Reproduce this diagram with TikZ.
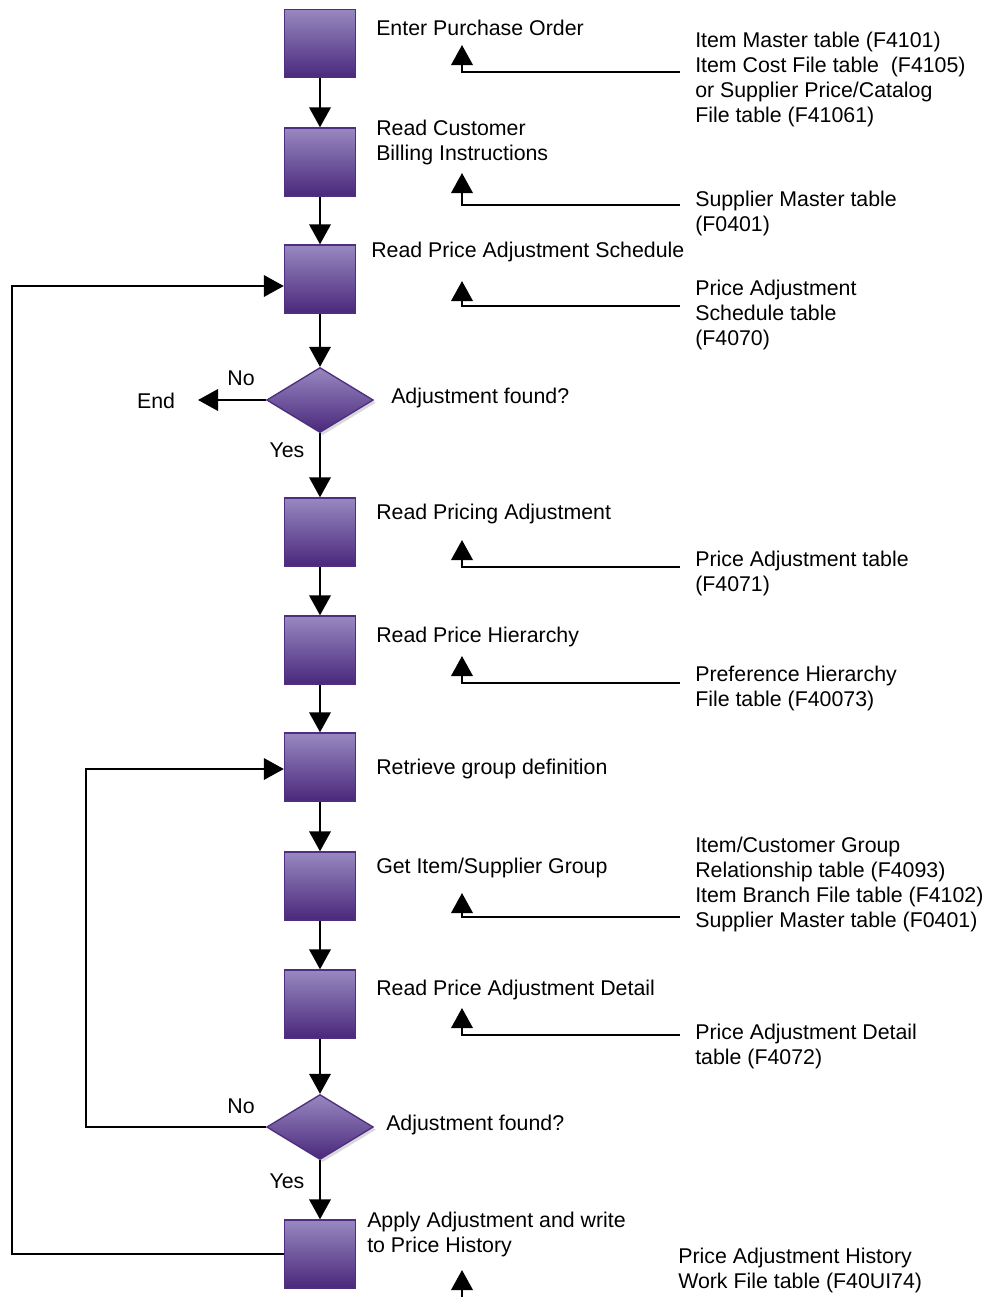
\documentclass[tikz,border=0pt]{standalone}
\usepackage{fontspec}
\setmainfont{Liberation Sans}
\usetikzlibrary{arrows.meta,shapes.geometric,shadows}
\definecolor{boxtop}{RGB}{152,136,192}
\definecolor{boxbot}{RGB}{74,40,124}
\definecolor{boxedge}{RGB}{78,46,128}
\begin{document}
\begin{tikzpicture}[x=0.75pt,y=-0.75pt,
  every node/.style={inner sep=0pt,font=\fontsize{16}{18.75}\selectfont},
  stepbox/.style={rectangle,draw=boxedge,line width=1pt,top color=boxtop,bottom color=boxbot,
    minimum width=53.25pt,minimum height=51pt},
  decision/.style={diamond,draw=boxedge,line width=1pt,top color=boxtop,bottom color=boxbot,
    minimum width=80pt,minimum height=48.75pt,
    drop shadow={shadow xshift=2pt,shadow yshift=-2pt,fill=black!15,opacity=1}},
  label/.style={anchor=west,align=left},
  flow/.style={line width=1.9pt,-{Triangle[width=16pt,length=15pt]}}]
\useasboundingbox (0,0) rectangle (985,1297);

% process steps
\node[stepbox] (b1) at (320,43.5) {};
\node[stepbox] (b2) at (320,162) {};
\node[stepbox] (b3) at (320,279) {};
\node[decision] (d1) at (320,400) {};
\node[stepbox] (b4) at (320,532) {};
\node[stepbox] (b5) at (320,650) {};
\node[stepbox] (b6) at (320,767) {};
\node[stepbox] (b7) at (320,886) {};
\node[stepbox] (b8) at (320,1004) {};
\node[decision] (d2) at (320,1127) {};
\node[stepbox] (b9) at (320,1254) {};

% step captions
\node[label] (t1) at (376,28) {Enter Purchase Order};
\node[label] (t2) at (376,142) {Read Customer\\Billing Instructions};
\node[label] (t3) at (371,252) {Read Price Adjustment Schedule};
\node[label] (q1) at (391,398) {Adjustment found?};
\node[label] (t4) at (376,514) {Read Pricing Adjustment};
\node[label] (t5) at (376,637) {Read Price Hierarchy};
\node[label] (t6) at (376,769) {Retrieve group definition};
\node[label] (t7) at (376,868) {Get Item/Supplier Group};
\node[label] (t8) at (376,990) {Read Price Adjustment Detail};
\node[label] (q2) at (386,1125) {Adjustment found?};
\node[label] (t9) at (367,1234) {Apply Adjustment and write\\to Price History};

% branch labels
\node (no1) at (241,378) {No};
\node (end) at (156,401) {End};
\node (yes1) at (287,450) {Yes};
\node (no2) at (241,1106) {No};
\node (yes2) at (287,1181) {Yes};

% tables
\node[label] (r1) at (695,79.5) {Item Master table (F4101)\\Item Cost File table~~(F4105)\\or Supplier Price/Catalog\\File table (F41061)};
\node[label] (r2) at (695,213) {Supplier Master table\\(F0401)};
\node[label] (r3) at (695,315) {Price Adjustment\\Schedule table\\(F4070)};
\node[label] (r4) at (695,573) {Price Adjustment table\\(F4071)};
\node[label] (r5) at (695,688.5) {Preference Hierarchy\\File table (F40073)};
\node[label] (r7) at (695,884) {Item/Customer Group\\Relationship table (F4093)\\Item Branch File table (F4102)\\Supplier Master table (F0401)};
\node[label] (r8) at (695,1046) {Price Adjustment Detail\\table (F4072)};
\node[label] (r9) at (678,1270) {Price Adjustment History\\Work File table (F40UI74)};

% main flow
\draw[flow] (b1) -- (b2);
\draw[flow] (b2) -- (b3);
\draw[flow] (b3) -- (d1);
\draw[flow] (d1) -- (b4);
\draw[flow] (b4) -- (b5);
\draw[flow] (b5) -- (b6);
\draw[flow] (b6) -- (b7);
\draw[flow] (b7) -- (b8);
\draw[flow] (b8) -- (d2);
\draw[flow] (d2) -- (b9);
\coordinate (endtip) at (198,400);
\draw[flow] (d1.west) -- (endtip);

% loop back to the schedule
\coordinate (l1) at (12,286);
\draw[flow] (b9.west) -| (l1) -- (l1 -| b3.west);
% loop back to group definition
\coordinate (l2) at (86,769);
\draw[flow] (d2.west) -| (l2) -- (l2 -| b6.west);

% table inputs
\foreach \i/\tip/\ly in {1/45/72,2/173/205,3/281/306,4/540/567,5/656/683,7/893/917,8/1008/1035}{
  \coordinate (a\i) at (462,\tip);
  \coordinate (e\i) at (680,\ly);
  \draw[flow] (e\i) -| (a\i);
}
\coordinate (a9) at (462,1270);
\coordinate (e9) at (462,1297);
\draw[flow] (e9) -- (a9);
\end{tikzpicture}
\end{document}
